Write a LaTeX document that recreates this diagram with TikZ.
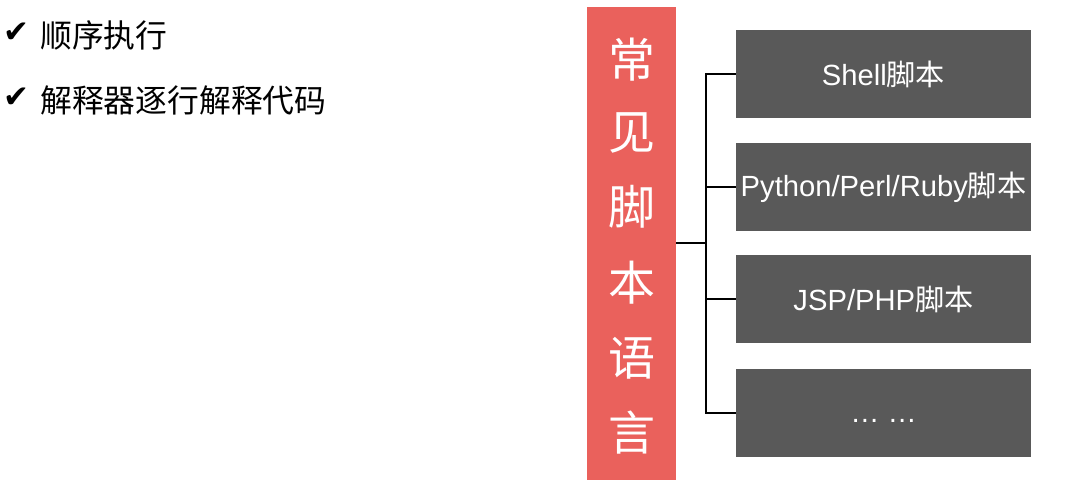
\documentclass[tikz,border=0pt]{standalone}
\usepackage{fontspec}
\setmainfont{Liberation Sans}
\newfontfamily\cjk{Noto Sans CJK SC}
\newfontfamily\dejavu{DejaVu Sans}
\definecolor{redbox}{HTML}{EA615C}
\definecolor{graybox}{HTML}{595959}
\begin{document}
\begin{tikzpicture}[x=1pt,y=-1pt,
  gbox/.style={fill=graybox, draw=none, minimum width=295pt, minimum height=88pt, inner sep=0pt, text=white, font=\fontsize{29.2}{31}\selectfont},
  conn/.style={line width=2.2pt, black},
  vchar/.style={text=white, font=\cjk\fontsize{47}{50}\selectfont, inner sep=0pt},
  ltext/.style={anchor=west, font=\cjk\fontsize{31.8}{34}\selectfont, inner sep=0pt},
  chk/.style={anchor=center, font=\dejavu\fontsize{31}{34}\selectfont, inner sep=0pt}]
\useasboundingbox (0,0) rectangle (1086,489);
\fill[white] (0,0) rectangle (1086,489);
% left bullets
\node[chk] (c1) at (16,33) {✔};
\node[ltext] (t1) at (40,35) {顺序执行};
\node[chk] (c2) at (16,98) {✔};
\node[ltext] (t2) at (40,100) {解释器逐行解释代码};
% red box
\node[fill=redbox, minimum width=89pt, minimum height=473pt, inner sep=0pt] (red) at (631.5,243.5) {};
\node[vchar] (v1) at (631.5,60) {常};
\node[vchar] (v2) at (631.5,133) {见};
\node[vchar] (v3) at (631.5,207) {脚};
\node[vchar] (v4) at (631.5,283) {本};
\node[vchar] (v5) at (631.5,358) {语};
\node[vchar] (v6) at (631.5,433) {言};
% gray boxes
\node[gbox] (b1) at (883.5,74) {Shell{\cjk 脚本}};
\node[gbox] (b2) at (883.5,187) {Python/Perl/Ruby{\cjk 脚本}};
\node[gbox] (b3) at (883.5,299) {JSP/PHP{\cjk 脚本}};
\node[gbox] (b4) at (883.5,413) {\raisebox{-1.2ex}{… …}};
% connectors
\coordinate (j) at (706,243);
\draw[conn] (red.east |- j) -- (j);
\draw[conn] (b1.west) -- (706,74) -- (706,413) -- (b4.west);
\draw[conn] (b2.west) -- (706,187);
\draw[conn] (b3.west) -- (706,299);
\end{tikzpicture}
\end{document}
